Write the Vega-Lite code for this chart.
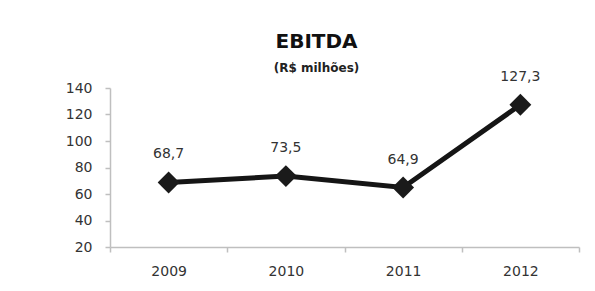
{
  "$schema": "https://vega.github.io/schema/vega-lite/v6.json",
  "width": 469,
  "height": 159,
  "autosize": {"type": "none"},
  "padding": {"left": 110, "top": 88, "right": 16, "bottom": 44},
  "background": "white",
  "title": {
    "text": "EBITDA",
    "subtitle": "(R$ milhões)",
    "anchor": "middle",
    "dx": -28,
    "offset": -4,
    "font": "DejaVu Sans",
    "fontSize": 20,
    "fontWeight": "bold",
    "color": "#111111",
    "subtitleFont": "DejaVu Sans",
    "subtitleFontSize": 12,
    "subtitleFontWeight": "bold",
    "subtitleColor": "#222222",
    "subtitlePadding": 11
  },
  "data": {
    "values": [
      {"ano": "2009", "ebitda": 68.7, "rotulo": "68,7"},
      {"ano": "2010", "ebitda": 73.5, "rotulo": "73,5"},
      {"ano": "2011", "ebitda": 64.9, "rotulo": "64,9"},
      {"ano": "2012", "ebitda": 127.3, "rotulo": "127,3"}
    ]
  },
  "encoding": {
    "x": {
      "field": "ano",
      "type": "ordinal",
      "scale": {"paddingInner": 0, "paddingOuter": 0},
      "axis": {
        "title": null,
        "labelAngle": 0,
        "tickBand": "extent",
        "domainColor": "#bfbfbf",
        "domainWidth": 1.5,
        "tickColor": "#bfbfbf",
        "tickWidth": 1.5,
        "tickSize": 5,
        "labelPadding": 12,
        "labelFont": "DejaVu Sans",
        "labelFontSize": 14,
        "labelColor": "#333333"
      }
    },
    "y": {
      "field": "ebitda",
      "type": "quantitative",
      "scale": {"domain": [20, 140], "nice": false, "zero": false},
      "axis": {
        "title": null,
        "values": [20, 40, 60, 80, 100, 120, 140],
        "grid": false,
        "domainColor": "#bfbfbf",
        "domainWidth": 1.5,
        "tickColor": "#bfbfbf",
        "tickWidth": 1.5,
        "tickSize": 5,
        "labelPadding": 13,
        "labelFont": "DejaVu Sans",
        "labelFontSize": 14,
        "labelColor": "#333333"
      }
    }
  },
  "layer": [
    {"mark": {"type": "line", "color": "#151515", "strokeWidth": 5}},
    {"mark": {"type": "point", "shape": "diamond", "filled": true, "size": 480, "color": "#1a1a1a", "opacity": 1}},
    {
      "mark": {"type": "text", "dy": -28, "font": "DejaVu Sans", "fontSize": 14, "color": "#333333"},
      "encoding": {"text": {"field": "rotulo"}}
    }
  ],
  "config": {"view": {"stroke": null}}
}
